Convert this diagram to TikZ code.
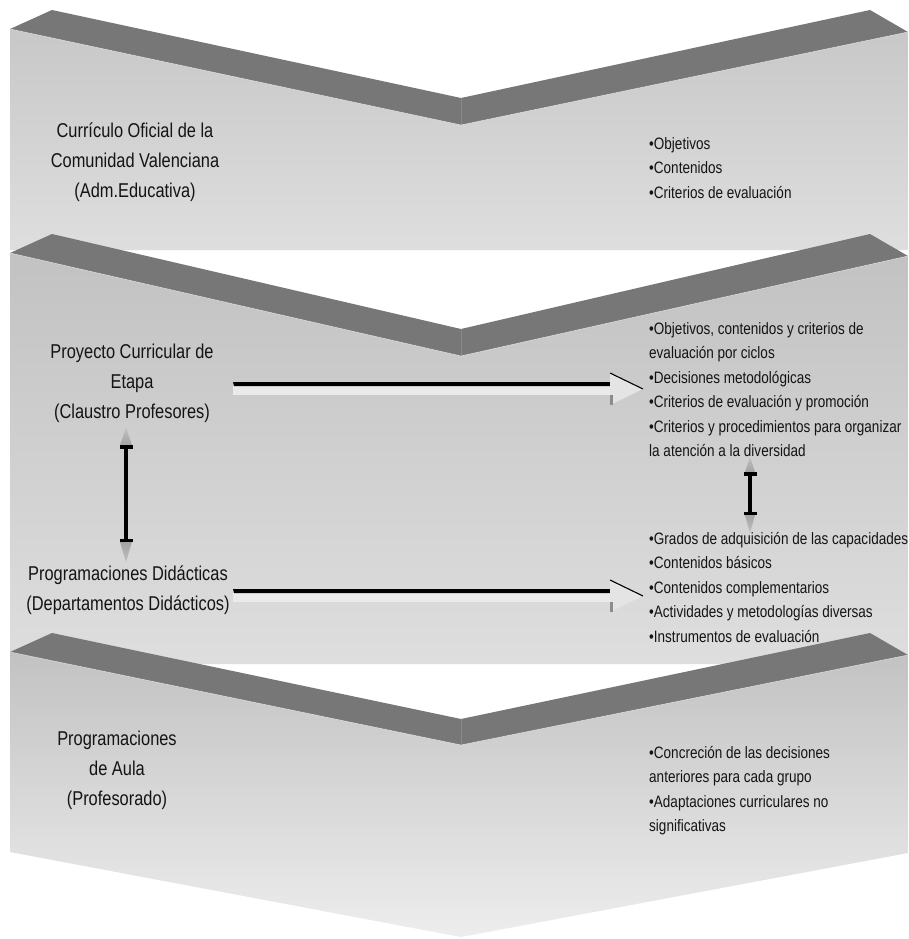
\documentclass[tikz,border=0pt]{standalone}
\usepackage{fontspec}
\setmainfont{Liberation Sans}[FakeStretch=0.82]
\usetikzlibrary{calc}

\definecolor{topface}{HTML}{777777}
\definecolor{seam}{HTML}{8A8A8A}
\definecolor{frontA}{HTML}{C8C8C8}
\definecolor{frontB}{HTML}{DEDEDE}
\definecolor{frontC}{HTML}{C2C2C2}
\definecolor{frontD}{HTML}{EDEDED}
\definecolor{shaftlight}{HTML}{EAEAEA}
\definecolor{headlight}{HTML}{E4E4E4}
\definecolor{headshade}{HTML}{8C8C8C}
\definecolor{tipgray}{HTML}{A4A4A4}

\begin{document}
\begin{tikzpicture}[x=1pt,y=-1pt,
  leftlabel/.style={align=center,inner sep=0pt,anchor=center,
    font=\fontsize{20}{30}\selectfont,text=black!92},
  rightlist/.style={align=left,inner sep=0pt,anchor=north west,
    font=\fontsize{16.5}{24.5}\selectfont,text=black!92},
  topfill/.style={fill=topface},
  edgeglint/.style={draw=white,opacity=.55,line width=.6pt},
  shaftbar/.style={fill=black},
  shaftbody/.style={fill=shaftlight},
  headbody/.style={fill=headlight},
  headedge/.style={draw=black,line width=1.1pt},
  ibeam/.style={fill=black},
  grayhead/.style={top color=tipgray!70,bottom color=tipgray},
  grayheaddown/.style={top color=tipgray,bottom color=tipgray!70}
]
\useasboundingbox (0,0) rectangle (909,939);
\fill[white] (0,0) rectangle (909,939);

% ---------- band 1 : curriculum of the region ----------
\shade[top color=frontA,bottom color=frontB]
  (10,29) -- (461,125) -- (908,32) -- (908,250) -- (10,250) -- cycle;
\fill[topfill] (10,29) -- (52,10) -- (461,98) -- (870,10) -- (908,32) -- (461,125) -- cycle;
\draw[seam] (461,98) -- (461,125);
\draw[edgeglint] (10,29) -- (461,125) -- (908,32);

% ---------- band 2 : school level ----------
\begin{scope}[shift={(0,224)}]
\shade[top color=frontA!97!black,bottom color=frontB]
  (10,29) -- (461,132) -- (908,32) -- (908,440) -- (10,440) -- cycle;
\fill[topfill] (10,29) -- (52,10) -- (461,105) -- (870,10) -- (908,32) -- (461,132) -- cycle;
\draw[seam] (461,105) -- (461,132);
\draw[edgeglint] (10,29) -- (461,132) -- (908,32);
\end{scope}

% ---------- band 3 : classroom level ----------
\begin{scope}[shift={(0,623)}]
\shade[top color=frontC,bottom color=frontD]
  (10,29) -- (461,122) -- (908,32) -- (908,230) -- (461,314) -- (10,229) -- cycle;
\fill[topfill] (10,29) -- (52,10) -- (461,96) -- (870,10) -- (908,32) -- (461,122) -- cycle;
\draw[seam] (461,96) -- (461,122);
\draw[edgeglint] (10,29) -- (461,122) -- (908,32);
\end{scope}

% ---------- labels ----------
\node[leftlabel] (cur) at (135,162) {Currículo Oficial de la\\Comunidad Valenciana\\(Adm.Educativa)};
\node[rightlist] (curl) at (649,137) {•Objetivos\\•Contenidos\\•Criterios de evaluación};

\node[leftlabel] (pce) at (132,383) {Proyecto Curricular de\\Etapa\\(Claustro Profesores)};
\node[rightlist] (pcel) at (649,322) {•Objetivos, contenidos y criterios de\\evaluación por ciclos\\•Decisiones metodológicas\\•Criterios de evaluación y promoción\\•Criterios y procedimientos para organizar\\la atención a la diversidad};

\node[leftlabel] (pd) at (128,590) {Programaciones Didácticas\\(Departamentos Didácticos)};
\node[rightlist] (pdl) at (649,532) {•Grados de adquisición de las capacidades\\•Contenidos básicos\\•Contenidos complementarios\\•Actividades y metodologías diversas\\•Instrumentos de evaluación};

\node[leftlabel] (pa) at (117,770) {Programaciones\\de Aula\\(Profesorado)};
\node[rightlist] (pal) at (649,746) {•Concreción de las decisiones\\anteriores para cada grupo\\•Adaptaciones curriculares no\\significativas};

% ---------- horizontal block arrows ----------
\coordinate (h1s) at (233,389);
\coordinate (h1e) at (643,389);
\coordinate (h2s) at (233,596);
\coordinate (h2e) at (643,596);
\foreach \s/\e in {h1s/h1e,h2s/h2e}{
  \fill[shaftbody] ($(\s)+(0,-3)$) rectangle ($(\e)+(-33,6)$);
  \fill[shaftbar] ($(\s)+(0,-7)$) -- ($(\e)+(-33,-7)$) -- ($(\e)+(-33,-3)$) -- ($(\s)+(1,-3)$) -- cycle;
  \fill[headbody] ($(\e)+(-33,-16)$) -- (\e) -- ($(\e)+(-33,16)$) -- cycle;
  \fill[headshade] ($(\e)+(-33,6)$) rectangle ($(\e)+(-30,16)$);
  \draw[headedge] ($(\e)+(-33,-16)$) -- (\e);
}

% ---------- vertical double arrows ----------
\coordinate (v1t) at (126,428);
\coordinate (v1b) at (126,562);
\coordinate (v2t) at (750,457);
\coordinate (v2b) at (750,533);
\foreach \t/\b/\w/\h in {v1t/v1b/6/17,v2t/v2b/5/15}{
  \shade[grayhead] (\t) -- ($(\t)+(\w,\h)$) -- ($(\t)+(-\w,\h)$) -- cycle;
  \shade[grayheaddown] ($(\b)+(-\w,-\h-3)$) -- ($(\b)+(\w,-\h-3)$) -- (\b) -- cycle;
  \fill[ibeam] ($(\t)+(-1.6,\h)$) rectangle ($(\b)+(1.6,-\h-3)$);
  \fill[ibeam] ($(\t)+(-6.5,\h)$) rectangle ($(\t)+(6.5,\h+3.5)$);
  \fill[ibeam] ($(\b)+(-6.5,-\h-6.5)$) rectangle ($(\b)+(6.5,-\h-3)$);
}
\end{tikzpicture}
\end{document}
